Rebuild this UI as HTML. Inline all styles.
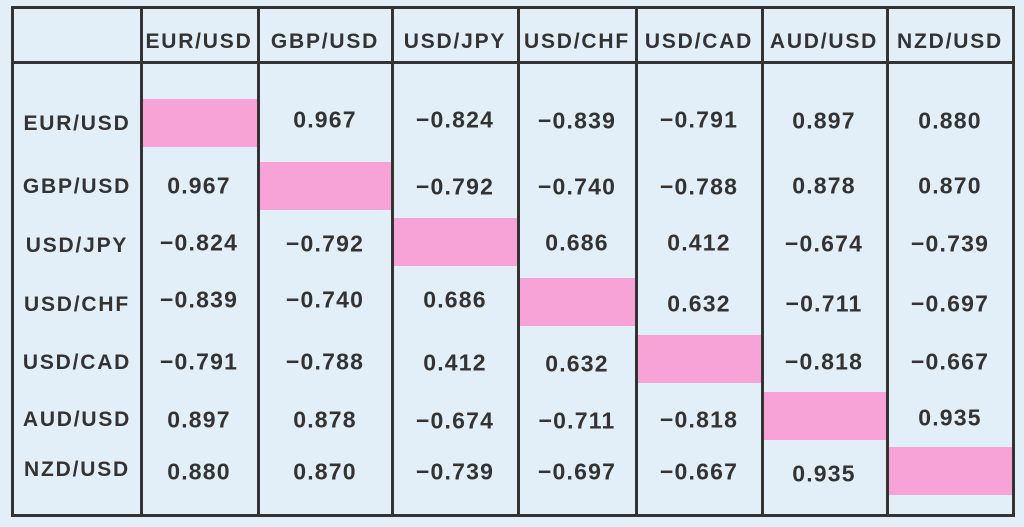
<!DOCTYPE html>
<html><head><style>
body{margin:0;width:1024px;height:527px;background:#e2eef8;position:relative;overflow:hidden;font-family:"Liberation Sans",sans-serif;}
.t{position:absolute;transform:translate(-50%,-50%);font-size:23px;font-weight:bold;color:#333;white-space:nowrap;letter-spacing:1.2px}
.h{font-size:21px;letter-spacing:1.8px}
.p{position:absolute;background:#f7a3d7}
.v{position:absolute;top:7px;height:509px;width:3px;background:#333}
</style></head><body>
<div class="p" style="left:142px;top:99px;width:116px;height:48px"></div>
<div class="p" style="left:259px;top:162px;width:133px;height:48px"></div>
<div class="p" style="left:393px;top:218px;width:125px;height:48px"></div>
<div class="p" style="left:519px;top:278px;width:117px;height:48px"></div>
<div class="p" style="left:637px;top:335px;width:125px;height:48px"></div>
<div class="p" style="left:763px;top:392px;width:124px;height:48px"></div>
<div class="p" style="left:888px;top:447px;width:125px;height:48px"></div>
<div style="position:absolute;left:11px;top:6px;width:998px;height:505px;border:3px solid #333"></div>
<div style="position:absolute;left:11px;top:61px;width:1004px;height:3px;background:#333"></div>
<div class="v" style="left:140px"></div><div class="v" style="left:257px"></div><div class="v" style="left:391px"></div><div class="v" style="left:517px"></div><div class="v" style="left:635px"></div><div class="v" style="left:761px"></div><div class="v" style="left:886px"></div>
<div class="t h" style="left:199px;top:42px">EUR/USD</div>
<div class="t h" style="left:325px;top:42px">GBP/USD</div>
<div class="t h" style="left:455px;top:42px">USD/JPY</div>
<div class="t h" style="left:577px;top:42px">USD/CHF</div>
<div class="t h" style="left:699px;top:42px">USD/CAD</div>
<div class="t h" style="left:824px;top:42px">AUD/USD</div>
<div class="t h" style="left:950px;top:42px">NZD/USD</div>
<div class="t h" style="left:77px;top:124px">EUR/USD</div>
<div class="t h" style="left:77px;top:187px">GBP/USD</div>
<div class="t h" style="left:77px;top:246px">USD/JPY</div>
<div class="t h" style="left:77px;top:305px">USD/CHF</div>
<div class="t h" style="left:77px;top:363px">USD/CAD</div>
<div class="t h" style="left:77px;top:420px">AUD/USD</div>
<div class="t h" style="left:77px;top:470px">NZD/USD</div>

<div class="t" style="left:325px;top:120px">0.967</div>
<div class="t" style="left:455px;top:120px">−0.824</div>
<div class="t" style="left:577px;top:121px">−0.839</div>
<div class="t" style="left:699px;top:120px">−0.791</div>
<div class="t" style="left:824px;top:121px">0.897</div>
<div class="t" style="left:950px;top:121px">0.880</div>

<div class="t" style="left:199px;top:186px">0.967</div>
<div class="t" style="left:455px;top:187px">−0.792</div>
<div class="t" style="left:577px;top:187px">−0.740</div>
<div class="t" style="left:699px;top:187px">−0.788</div>
<div class="t" style="left:824px;top:186px">0.878</div>
<div class="t" style="left:950px;top:186px">0.870</div>

<div class="t" style="left:199px;top:243px">−0.824</div>
<div class="t" style="left:325px;top:244px">−0.792</div>
<div class="t" style="left:577px;top:243px">0.686</div>
<div class="t" style="left:699px;top:243px">0.412</div>
<div class="t" style="left:824px;top:244px">−0.674</div>
<div class="t" style="left:950px;top:244px">−0.739</div>

<div class="t" style="left:199px;top:300px">−0.839</div>
<div class="t" style="left:325px;top:300px">−0.740</div>
<div class="t" style="left:455px;top:300px">0.686</div>
<div class="t" style="left:699px;top:304px">0.632</div>
<div class="t" style="left:824px;top:304px">−0.711</div>
<div class="t" style="left:950px;top:304px">−0.697</div>

<div class="t" style="left:199px;top:362px">−0.791</div>
<div class="t" style="left:325px;top:362px">−0.788</div>
<div class="t" style="left:455px;top:363px">0.412</div>
<div class="t" style="left:577px;top:364px">0.632</div>
<div class="t" style="left:824px;top:362px">−0.818</div>
<div class="t" style="left:950px;top:362px">−0.667</div>

<div class="t" style="left:199px;top:420px">0.897</div>
<div class="t" style="left:325px;top:420px">0.878</div>
<div class="t" style="left:455px;top:421px">−0.674</div>
<div class="t" style="left:577px;top:421px">−0.711</div>
<div class="t" style="left:699px;top:420px">−0.818</div>
<div class="t" style="left:950px;top:418px">0.935</div>

<div class="t" style="left:199px;top:472px">0.880</div>
<div class="t" style="left:325px;top:472px">0.870</div>
<div class="t" style="left:455px;top:472px">−0.739</div>
<div class="t" style="left:577px;top:472px">−0.697</div>
<div class="t" style="left:699px;top:472px">−0.667</div>
<div class="t" style="left:824px;top:474px">0.935</div>
</body></html>
